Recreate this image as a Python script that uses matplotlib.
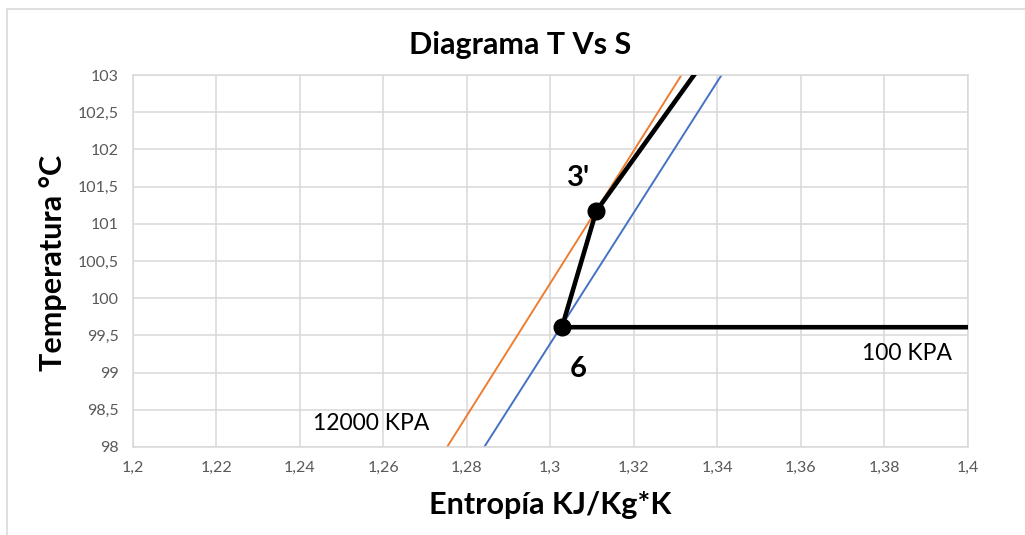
import matplotlib
matplotlib.use('Agg')
import matplotlib.pyplot as plt
from matplotlib.patches import Rectangle
from matplotlib.ticker import FuncFormatter

# linea de 12000 kPa (naranja) y linea de 100 kPa (azul)
s_12000 = [1.2753, 1.3314]
T_12000 = [98.0, 103.0]
s_100 = [1.2842, 1.3410]
T_100 = [98.0, 103.0]

# ciclo: puntos 6, 3' y continuacion
s_ciclo = [7.3589, 1.3028, 1.3110, 1.3600]
T_ciclo = [99.61, 99.61, 101.17, 105.0]

x_ticks = [1.2, 1.22, 1.24, 1.26, 1.28, 1.3, 1.32, 1.34, 1.36, 1.38, 1.4]
y_ticks = [98, 98.5, 99, 99.5, 100, 100.5, 101, 101.5, 102, 102.5, 103]

plt.rcParams['font.family'] = ['Lato', 'DejaVu Sans']


def coma(v, pos):
    txt = ('%.2f' % v).rstrip('0').rstrip('.')
    return txt.replace('.', ',')


def main():
    fig = plt.figure(figsize=(10.25, 5.35), dpi=100)
    ax = fig.add_axes([0.1293, 0.1645, 0.8151, 0.6953])

    ax.plot(s_12000, T_12000, color='#ED7D31', lw=1.4, zorder=2)
    ax.plot(s_100, T_100, color='#4472C4', lw=1.4, zorder=2)
    ax.plot(s_ciclo, T_ciclo, color='black', lw=3.3, zorder=3)
    ax.plot(s_ciclo[1:3], T_ciclo[1:3], 'o', color='black', ms=12, zorder=4)

    ax.set_xlim(1.2, 1.4)
    ax.set_ylim(98, 103)
    ax.set_xticks(x_ticks)
    ax.set_yticks(y_ticks)
    ax.xaxis.set_major_formatter(FuncFormatter(coma))
    ax.yaxis.set_major_formatter(FuncFormatter(coma))
    ax.tick_params(length=0, labelsize=11.5, labelcolor='#595959', pad=10)
    ax.grid(True, color='#D9D9D9', lw=1.1)
    ax.set_axisbelow(True)
    for sp in ax.spines.values():
        sp.set_color('#D9D9D9')
        sp.set_linewidth(1.1)

    ax.text(1.3067, 101.62, "3'", fontsize=21, fontweight='bold',
            ha='center', va='center')
    ax.text(1.3067, 99.05, '6', fontsize=21, fontweight='bold',
            ha='center', va='center')
    ax.text(1.3855, 99.25, '100 KPA', fontsize=16.5, ha='center', va='center')
    ax.text(1.2572, 98.32, '12000 KPA', fontsize=16.5, ha='center', va='center')

    fig.text(0.507, 0.916, 'Diagrama T Vs S', fontsize=22, fontweight='bold',
             ha='center', va='center')
    fig.text(0.537, 0.056, 'Entropía KJ/Kg*K', fontsize=22, fontweight='bold',
             ha='center', va='center')
    fig.text(0.052, 0.508, 'Temperatura °C', fontsize=22, fontweight='bold',
             ha='center', va='center', rotation=90)

    fig.patches.append(Rectangle((7 / 1025, -0.1), 1.2, (535 - 9) / 535 + 0.1,
                                 transform=fig.transFigure, fill=False,
                                 edgecolor='#D9D9D9', lw=1.2))

    fig.savefig('out.png', dpi=100)


if __name__ == '__main__':
    main()
